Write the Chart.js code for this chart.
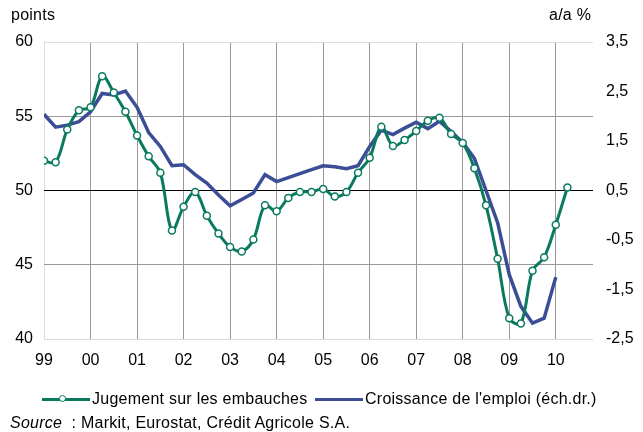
<!DOCTYPE html>
<html>
<head>
<meta charset="utf-8">
<script src="https://cdn.jsdelivr.net/npm/chart.js@4"></script>
<style>
  html, body { margin: 0; padding: 0; background: #fff; }
  #wrap { position: relative; width: 643px; height: 432px; overflow: hidden; font-family: "Liberation Sans", Arial, sans-serif; color: #000; }
  #c { position: absolute; left: 0; top: 0; }
  .t { position: absolute; font-size: 16px; line-height: 18px; white-space: nowrap; letter-spacing: 0.25px; }
  .ln { position: absolute; height: 3px; }
  .mk { position: absolute; width: 5px; height: 5px; border: 1.5px solid #0a7a5f; border-radius: 50%; background: #fff; }
</style>
</head>
<body>
<div id="wrap">
  <canvas id="c" width="643" height="432"></canvas>
  <div class="t" style="left:11px; top:6px;">points</div>
  <div class="t" style="left:549px; top:6px;">a/a %</div>
  <div class="ln" style="left:42px; top:398px; width:48px; background:#0a7a5f;"></div>
  <div class="mk" style="left:59px; top:395px;"></div>
  <div class="t" style="left:92px; top:390px;">Jugement sur les embauches</div>
  <div class="ln" style="left:315px; top:398px; width:48px; background:#3b4d96;"></div>
  <div class="t" style="left:365px; top:390px;">Croissance de l'emploi (éch.dr.)</div>
  <div class="t" style="left:10px; top:414px;"><i>Source</i>&nbsp; : Markit, Eurostat, Crédit Agricole S.A.</div>
</div>
<script>
// Quarterly periods (year, quarter)
const quarters = [
  '1999T1','1999T2','1999T3','1999T4',
  '2000T1','2000T2','2000T3','2000T4',
  '2001T1','2001T2','2001T3','2001T4',
  '2002T1','2002T2','2002T3','2002T4',
  '2003T1','2003T2','2003T3','2003T4',
  '2004T1','2004T2','2004T3','2004T4',
  '2005T1','2005T2','2005T3','2005T4',
  '2006T1','2006T2','2006T3','2006T4',
  '2007T1','2007T2','2007T3','2007T4',
  '2008T1','2008T2','2008T3','2008T4',
  '2009T1','2009T2','2009T3','2009T4',
  '2010T1','2010T2'
];

// Jugement sur les embauches (points, left axis)
const embauches = [
  52.0, 51.9, 54.1, 55.4,
  55.6, 57.7, 56.6, 55.3,
  53.7, 52.3, 51.2, 47.3,
  48.9, 49.9, 48.3, 47.1,
  46.2, 45.9, 46.7, 49.0,
  48.6, 49.5, 49.9, 49.9,
  50.1, 49.6, 49.9, 51.2,
  52.2, 54.3, 53.0, 53.4,
  54.0, 54.7, 54.9, 53.8,
  53.2, 51.5, 49.0, 45.4,
  41.4, 41.05, 44.6, 45.5,
  47.7, 50.2
];

// Croissance de l'emploi (a/a %, right axis)
const emploi = [
  2.04, 1.78, 1.82, 1.89,
  2.09, 2.46, 2.43, 2.51,
  2.18, 1.67, 1.39, 1.00,
  1.02, 0.82, 0.65, 0.41,
  0.19, 0.32, 0.45, 0.82,
  0.68, 0.76, 0.84, 0.92,
  1.00, 0.98, 0.94, 1.00,
  1.39, 1.72, 1.63, 1.76,
  1.88, 1.75, 1.90, 1.69,
  1.47, 1.15, 0.50, -0.15,
  -1.20, -1.84, -2.18, -2.08,
  -1.25
];

const yearTicks = [1999, 2000, 2001, 2002, 2003, 2004, 2005, 2006, 2007, 2008, 2009, 2010];
const xLabels = ['99', '00', '01', '02', '03', '04', '05', '06', '07', '08', '09', '10'];
const leftTicks = [40, 45, 50, 55, 60];
const rightTicks = [-2.5, -1.5, -0.5, 0.5, 1.5, 2.5, 3.5];
const rightLabels = ['-2,5', '-1,5', '-0,5', '0,5', '1,5', '2,5', '3,5'];

function qToX(q) {
  const y = parseInt(q.slice(0, 4), 10);
  const n = parseInt(q.slice(5), 10);
  return y + (n - 1) / 4;
}

const greenData = embauches.map((v, i) => ({ x: qToX(quarters[i]), y: v }));
const blueData = emploi.map((v, i) => ({ x: qToX(quarters[i]), y: v }));

const GREEN = '#0a7a5f';
const BLUE = '#3b4d96';
const FONT = { family: '"Liberation Sans", Arial, sans-serif', size: 16 };

new Chart(document.getElementById('c'), {
  type: 'line',
  data: {
    datasets: [
      {
        label: 'Jugement sur les embauches',
        data: greenData,
        yAxisID: 'y',
        borderColor: GREEN,
        borderWidth: 3,
        tension: 0.35,
        pointRadius: 3.5,
        pointBorderWidth: 1.5,
        pointBackgroundColor: '#fff',
        pointBorderColor: GREEN
      },
      {
        label: "Croissance de l'emploi (éch.dr.)",
        data: blueData,
        yAxisID: 'y1',
        borderColor: BLUE,
        borderWidth: 3.5,
        tension: 0,
        pointRadius: 0
      }
    ]
  },
  options: {
    responsive: false,
    animation: false,
    devicePixelRatio: 1,
    layout: { padding: { top: 42, left: 0, right: 0, bottom: 63 } },
    plugins: { legend: { display: false }, tooltip: { enabled: false } },
    scales: {
      x: {
        type: 'linear',
        min: 1999,
        max: 2010.8,
        afterFit: s => { s.height = 30; },
        afterBuildTicks: s => { s.ticks = yearTicks.map(v => ({ value: v })); },
        ticks: {
          autoSkip: false, maxRotation: 0, padding: 12,
          color: '#000', font: FONT,
          callback: (v, i) => xLabels[i]
        },
        grid: {
          drawTicks: false,
          color: ctx => ctx.index === 0 ? '#dcdcdc' : '#999999',
          lineWidth: 1
        },
        border: { display: false }
      },
      y: {
        position: 'left',
        min: 40, max: 60,
        afterFit: s => { s.width = 44; },
        afterBuildTicks: s => { s.ticks = leftTicks.map(v => ({ value: v })); },
        ticks: { padding: 11, color: '#000', font: FONT },
        grid: {
          drawTicks: false,
          color: ctx => {
            const v = ctx.tick ? ctx.tick.value : null;
            if (v === 50) return '#000';
            if (v === 60 || v === 40) return '#dcdcdc';
            return '#999999';
          },
          lineWidth: 1
        },
        border: { display: false }
      },
      y1: {
        position: 'right',
        min: -2.5, max: 3.5,
        afterFit: s => { s.width = 50; },
        afterBuildTicks: s => { s.ticks = rightTicks.map(v => ({ value: v })); },
        ticks: {
          padding: 13, color: '#000', font: FONT,
          callback: (v, i) => rightLabels[i]
        },
        grid: { display: false, drawTicks: false },
        border: { display: false }
      }
    }
  }
});
</script>
</body>
</html>
